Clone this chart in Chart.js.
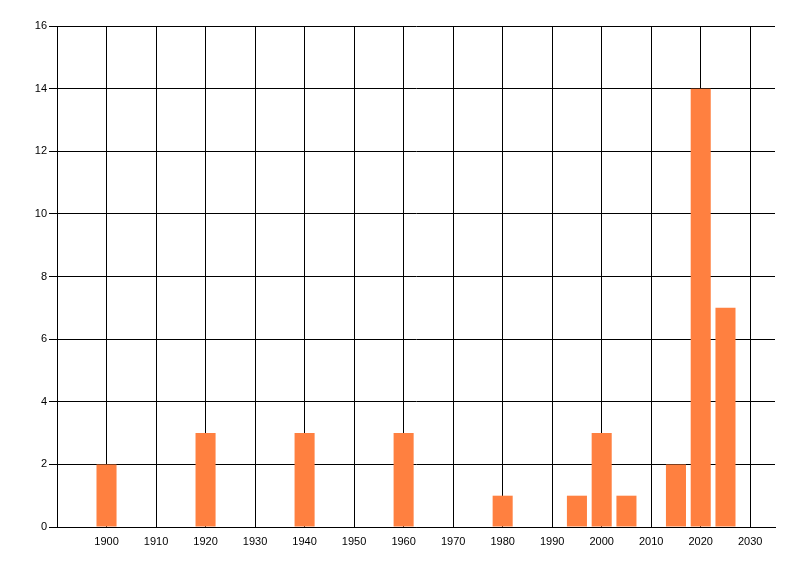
<!DOCTYPE html>
<html>
<head>
<meta charset="utf-8">
<script src="https://cdn.jsdelivr.net/npm/chart.js@4/dist/chart.umd.min.js"></script>
<style>
  body { margin: 0; background: #ffffff; }
  #wrap { width: 800px; height: 576px; }
</style>
</head>
<body>
<div id="wrap"><canvas id="chart" width="800" height="576"></canvas></div>
<script>
// bar positions (years) and counts
var years = [1900, 1920, 1940, 1960, 1980, 1995, 2000, 2005, 2015, 2020, 2025];
var counts = [2, 3, 3, 3, 1, 1, 3, 1, 2, 14, 7];
var xTickLabels = [1900, 1910, 1920, 1930, 1940, 1950, 1960, 1970, 1980, 1990, 2000, 2010, 2020, 2030];
var yTickLabels = [0, 2, 4, 6, 8, 10, 12, 14, 16];

var points = years.map(function (y, i) {
  return { x: y, y: counts[i] };
});

var ctx = document.getElementById('chart');

var chart = new Chart(ctx, {
  type: 'bar',
  data: {
    datasets: [
      {
        data: points,
        backgroundColor: 'rgb(255,128,64)',
        borderWidth: 0,
        barPercentage: 1,
        categoryPercentage: 0.81
      }
    ]
  },
  options: {
    responsive: false,
    animation: false,
    layout: { padding: { top: 26, right: 25, left: 0, bottom: 0 } },
    plugins: {
      legend: { display: false },
      tooltip: { enabled: false }
    },
    scales: {
      x: {
        type: 'linear',
        min: 1890,
        max: 2035,
        offset: false,
        afterBuildTicks: function (scale) {
          scale.ticks = xTickLabels.map(function (v) { return { value: v }; });
        },
        afterFit: function (scale) { scale.height = 49; },
        grid: { color: '#000000', lineWidth: 1, drawTicks: false, offset: false },
        border: { display: true, color: '#000000', width: 1 },
        ticks: {
          color: '#000000',
          padding: 8,
          maxRotation: 0,
          autoSkip: false,
          font: { family: 'Liberation Sans', size: 11 },
          callback: function (v) { return String(v); }
        }
      },
      y: {
        min: 0,
        max: 16,
        afterBuildTicks: function (scale) {
          scale.ticks = yTickLabels.map(function (v) { return { value: v }; });
        },
        afterFit: function (scale) { scale.width = 57; },
        grid: { color: '#000000', lineWidth: 1, drawTicks: true, tickLength: 8 },
        border: { display: true, color: '#000000', width: 1 },
        ticks: {
          color: '#000000',
          padding: 2,
          autoSkip: false,
          font: { family: 'Liberation Sans', size: 11 }
        }
      }
    }
  }
});
</script>
</body>
</html>
